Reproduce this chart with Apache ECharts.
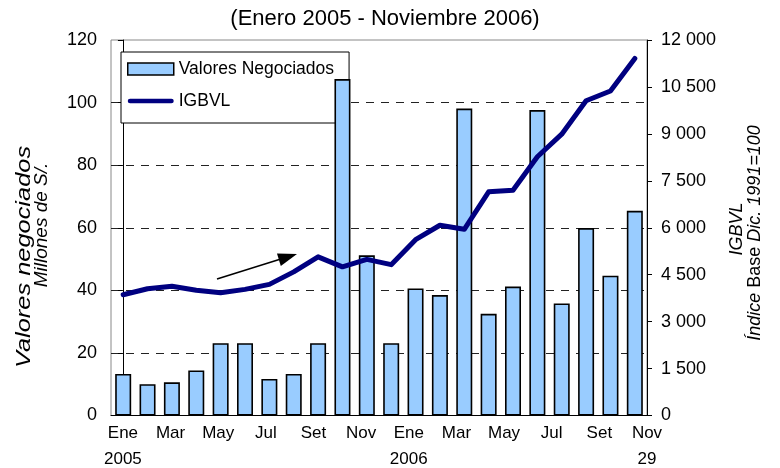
<!DOCTYPE html>
<html>
<head>
<meta charset="utf-8">
<title>Valores negociados e IGBVL</title>
<script src="https://cdn.jsdelivr.net/npm/echarts@6/dist/echarts.min.js"></script>
<style>
  html, body { margin: 0; padding: 0; background: #fff; }
  #chart { width: 780px; height: 468px; }
</style>
</head>
<body>
<div id="chart"></div>
<script>
// meses del grafico (una barra por mes)
const meses = [
  'Ene-05', 'Feb-05', 'Mar-05', 'Abr-05', 'May-05', 'Jun-05', 'Jul-05', 'Ago-05', 'Set-05', 'Oct-05', 'Nov-05', 'Dic-05',
  'Ene-06', 'Feb-06', 'Mar-06', 'Abr-06', 'May-06', 'Jun-06', 'Jul-06', 'Ago-06', 'Set-06', 'Nov-06'
]
// valores negociados, millones de S/.
const valoresNegociados = [13.3, 10.0, 10.6, 14.4, 23.1, 23.1, 11.7, 13.3, 23.1, 107.5, 51.2, 23.1, 40.6, 38.5, 98.1, 32.5, 41.2, 97.6, 35.8, 59.9, 44.7, 65.4]
// IGBVL, indice base dic. 1991=100
const igbvl = [3860, 4050, 4130, 4000, 3925, 4030, 4190, 4590, 5070, 4750, 4990, 4820, 5620, 6080, 5950, 7150, 7200, 8270, 8990, 10060, 10370, 11410]
// etiquetas del eje x (cada dos meses)
const etiquetasX = ['Ene\n2005', 'Mar', 'May', 'Jul', 'Set', 'Nov', 'Ene\n2006', 'Mar', 'May', 'Jul', 'Set', 'Nov\n29']
const posEtiquetasX = [0, 2, 4, 6, 8, 10, 12, 14, 16, 18, 20, 22]

const fuente = "'Liberation Sans', Arial, sans-serif"

const miles = (v) => String(v).replace(/\B(?=(\d{3})+(?!\d))/g, ' ')

// icono de linea gruesa para la leyenda
const iconoLinea = 'path://M2.5,0 L46.5,0 A2.5,2.5 0 0 1 46.5,5 L2.5,5 A2.5,2.5 0 0 1 2.5,0 Z'

const option = {
  animation: false,
  textStyle: { fontFamily: fuente, color: '#000' },
  title: {
    text: '(Enero 2005 - Noviembre 2006)',
    left: 385,
    top: 8,
    padding: 0,
    textAlign: 'center',
    textStyle: { fontFamily: fuente, fontSize: 22, fontWeight: 'normal', color: '#000' }
  },
  legend: {
    orient: 'vertical',
    left: 121,
    top: 52,
    padding: [8, 15, 13, 6],
    itemWidth: 46,
    itemHeight: 12,
    itemGap: 14,
    borderColor: '#000',
    borderWidth: 1,
    backgroundColor: '#fff',
    z: 1,
    textStyle: { fontFamily: fuente, fontSize: 17.5, color: '#000' },
    data: [
      { name: 'Valores Negociados', icon: 'rect', itemStyle: { color: '#99CCFF', borderColor: '#000', borderWidth: 1.5 } },
      { name: 'IGBVL', icon: iconoLinea, itemStyle: { color: '#000080', borderWidth: 0 } }
    ]
  },
  grid: {
    left: 111,
    right: 133,
    top: 40,
    bottom: 52.5,
    outerBoundsMode: 'none',
    show: true,
    borderColor: '#888',
    borderWidth: 1
  },
  xAxis: [
    {
      type: 'category',
      data: meses,
      boundaryGap: true,
      axisLine: { lineStyle: { color: '#000', width: 1 } },
      axisTick: { show: false },
      axisLabel: { show: false }
    },
    // solo para las etiquetas de meses
    {
      type: 'value',
      position: 'bottom',
      min: -0.5,
      max: 22,
      axisLine: { show: false },
      axisTick: { show: false },
      splitLine: { show: false },
      axisLabel: {
        customValues: posEtiquetasX,
        formatter: (v) => etiquetasX[posEtiquetasX.indexOf(v)],
        fontFamily: fuente,
        fontSize: 17,
        lineHeight: 26,
        margin: 5,
        color: '#000'
      }
    }
  ],
  yAxis: [
    {
      type: 'value',
      min: 0,
      max: 120,
      interval: 20,
      position: 'left',
      axisLine: { show: true, lineStyle: { color: '#000' } },
      axisTick: { show: true, length: 5, lineStyle: { color: '#000' } },
      axisLabel: { fontFamily: fuente, fontSize: 18, margin: 14, color: '#000' },
      splitLine: {
        show: true,
        showMinLine: false,
        showMaxLine: false,
        lineStyle: { type: [8, 7], color: '#222', width: 1 }
      }
    },
    {
      type: 'value',
      min: 0,
      max: 12000,
      interval: 1500,
      position: 'right',
      axisLine: { show: true, lineStyle: { color: '#000' } },
      axisTick: { show: true, length: 5, lineStyle: { color: '#000' } },
      axisLabel: { fontFamily: fuente, fontSize: 18, margin: 14, color: '#000', formatter: miles },
      splitLine: { show: false }
    }
  ],
  series: [
    {
      name: 'Valores Negociados',
      type: 'bar',
      xAxisIndex: 0,
      yAxisIndex: 0,
      barWidth: 16,
      itemStyle: { color: '#99CCFF', borderColor: '#000', borderWidth: 1.6 },
      data: valoresNegociados,
      z: 2
    },
    {
      name: 'IGBVL',
      type: 'line',
      xAxisIndex: 0,
      yAxisIndex: 1,
      symbol: 'none',
      lineStyle: { color: '#000080', width: 5, cap: 'round', join: 'round' },
      itemStyle: { color: '#000080' },
      data: igbvl,
      z: 3
    }
  ],
  graphic: [
    // titulos de ejes
    {
      type: 'text', x: 24, y: 257, rotation: Math.PI / 2, scaleX: 1.27,
      style: { text: 'Valores negociados', font: 'italic 20px ' + fuente, fill: '#000', textAlign: 'center', textVerticalAlign: 'middle' }
    },
    {
      type: 'text', x: 42, y: 225, rotation: Math.PI / 2,
      style: { text: 'Millones de S/.', font: 'italic 19px ' + fuente, fill: '#000', textAlign: 'center', textVerticalAlign: 'middle' }
    },
    {
      type: 'text', x: 737, y: 229, rotation: Math.PI / 2,
      style: { text: 'IGBVL', font: 'italic 18px ' + fuente, fill: '#000', textAlign: 'center', textVerticalAlign: 'middle' }
    },
    {
      type: 'text', x: 755, y: 233, rotation: Math.PI / 2,
      style: {
        text: '{i|Índice }{n|Base }{i|Dic. 1991=100}',
        fill: '#000',
        textAlign: 'center',
        textVerticalAlign: 'middle',
        rich: {
          i: { fontFamily: fuente, fontSize: 18, fontStyle: 'italic', fill: '#000' },
          n: { fontFamily: fuente, fontSize: 18, fill: '#000' }
        }
      }
    },
    // flecha
    {
      type: 'line',
      shape: { x1: 217, y1: 279, x2: 284, y2: 258 },
      style: { stroke: '#000', lineWidth: 1.5 },
      z: 10
    },
    {
      type: 'polygon',
      shape: { points: [[297, 254], [280.8, 265.9], [277, 253.5]] },
      style: { fill: '#000' },
      z: 10
    }
  ]
}

const myChart = echarts.init(document.getElementById('chart'))
myChart.setOption(option)
</script>
</body>
</html>
